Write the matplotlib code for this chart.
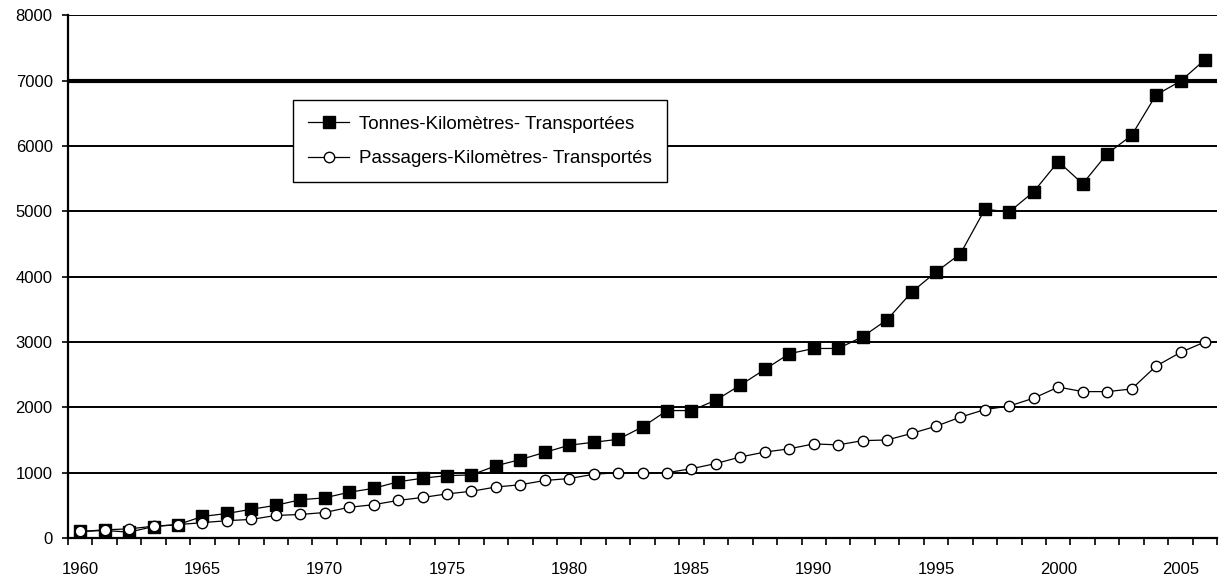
import numpy as np
import matplotlib.pyplot as plt

plt.rcParams['font.family'] = ['Liberation Sans', 'DejaVu Sans']

# Années (axe des catégories)
annees = list(range(1960, 2007))

# Tonnes-kilomètres transportées
tonnes_km = [100, 115, 90, 175, 205, 330, 375, 440, 500, 585,
             615, 700, 760, 860, 915, 955, 965, 1105, 1200, 1310,
             1420, 1465, 1510, 1700, 1950, 1950, 2110, 2340, 2580, 2820,
             2900, 2900, 3080, 3340, 3760, 4070, 4350, 5030, 4990, 5300,
             5760, 5420, 5880, 6160, 6780, 6990, 7320]

# Passagers-kilomètres transportés
passagers_km = [100, 125, 140, 180, 205, 235, 265, 285, 345, 360,
                390, 470, 510, 575, 620, 675, 715, 780, 815, 880,
                910, 975, 1000, 1000, 1000, 1060, 1140, 1240, 1315, 1365,
                1440, 1425, 1490, 1500, 1600, 1710, 1850, 1965, 2020, 2140,
                2310, 2240, 2240, 2280, 2630, 2840, 3000]

y_ticks = [0, 1000, 2000, 3000, 4000, 5000, 6000, 7000, 8000]
x_labels = [1960, 1965, 1970, 1975, 1980, 1985, 1990, 1995, 2000, 2005]

fig = plt.figure(figsize=(12.2, 5.79), dpi=100)
ax = fig.add_axes([0.0557, 0.0708, 0.942, 0.903])

x = np.arange(len(annees))

# lignes horizontales de la grille (celle de 7000 est plus épaisse sur l'original)
for v in y_ticks[1:]:
    lw = 3.0 if v == 7000 else 1.4
    ax.axhline(v, color='black', linewidth=lw, zorder=1)

ax.plot(x, tonnes_km, color='black', linewidth=0.9, marker='s', markersize=8,
        markerfacecolor='black', markeredgecolor='black',
        label='Tonnes-Kilomètres- Transportées', zorder=3)
ax.plot(x, passagers_km, color='black', linewidth=0.9, marker='o', markersize=7.5,
        markerfacecolor='white', markeredgecolor='black', markeredgewidth=1.0,
        label='Passagers-Kilomètres- Transportés', zorder=4)

ax.set_xlim(-0.5, len(annees) - 0.5)
ax.set_ylim(0, 8000)

ax.set_yticks(y_ticks)
ax.set_yticklabels([str(v) for v in y_ticks], fontsize=12)
ax.tick_params(axis='y', length=4, width=1.2, pad=7)

ax.set_xticks([annees.index(a) for a in x_labels])
ax.set_xticklabels([str(a) for a in x_labels], fontsize=12)
ax.set_xticks(np.arange(-0.5, len(annees)), minor=True)
ax.tick_params(axis='x', which='major', length=0, pad=17)
ax.tick_params(axis='x', which='minor', length=5, width=1.2, direction='out')

for s in ['top', 'right']:
    ax.spines[s].set_visible(False)
ax.spines['left'].set_linewidth(1.6)
ax.spines['bottom'].set_linewidth(1.6)

leg = ax.legend(loc='upper left', bbox_to_anchor=(0.196, 0.837), fontsize=13.5,
                frameon=True, fancybox=False, edgecolor='black', framealpha=1,
                borderpad=0.8, labelspacing=0.95, handlelength=2.2,
                handletextpad=0.5, borderaxespad=0)
leg.get_frame().set_linewidth(1.0)
leg.set_zorder(10)

fig.savefig('out.png', dpi=100)
